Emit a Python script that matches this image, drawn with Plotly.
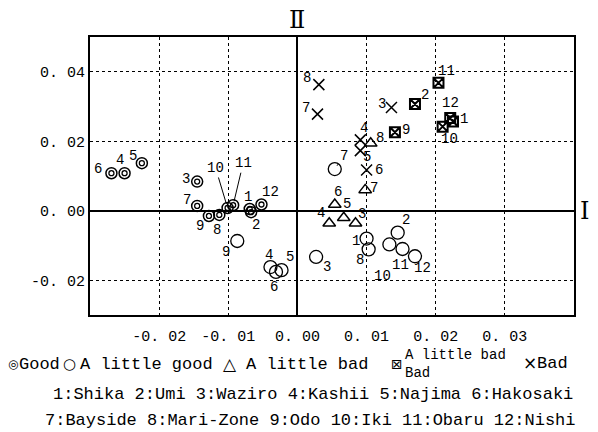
import plotly.graph_objects as go

# ---------------- data ----------------
stations = ["Shika", "Umi", "Waziro", "Kashii", "Najima", "Hakosaki",
            "Bayside", "Mari-Zone", "Odo", "Iki", "Obaru", "Nishi"]

categories = ["Good", "A little good", "A little bad", "A little bad<br>Bad", "Bad"]
category_glyphs = ["◎", "○", "△", "⊠", "×"]

good_id = [1, 2, 3, 4, 5, 6, 7, 8, 9, 10, 11, 12]
good_x = [-0.0069, -0.0067, -0.0145, -0.0250, -0.0225, -0.0269,
          -0.0145, -0.0113, -0.0128, -0.0101, -0.0093, -0.0052]
good_y = [0.0005, -0.0004, 0.0084, 0.0108, 0.0137, 0.0108,
          0.0014, -0.0012, -0.0015, 0.0008, 0.0016, 0.0018]

lgood_id = [1, 2, 3, 4, 5, 6, 7, 8, 9, 10, 11, 12]
lgood_x = [0.0100, 0.0145, 0.0027, -0.0039, -0.0023, -0.0031,
           0.0054, 0.0103, -0.0087, 0.0133, 0.0152, 0.0170]
lgood_y = [-0.0080, -0.0063, -0.0133, -0.0162, -0.0171, -0.0176,
           0.0120, -0.0111, -0.0087, -0.0097, -0.0110, -0.0131]

lbad_id = [3, 4, 5, 6, 7, 8]
lbad_x = [0.0084, 0.0046, 0.0067, 0.0054, 0.0098, 0.0106]
lbad_y = [-0.0036, -0.0036, -0.0020, 0.0018, 0.0060, 0.0194]

lbb_id = [1, 2, 9, 10, 11, 12]
lbb_x = [0.0225, 0.0170, 0.0141, 0.0210, 0.0204, 0.0221]
lbb_y = [0.0257, 0.0307, 0.0226, 0.0242, 0.0368, 0.0267]

bad_id = [3, 4, 5, 6, 7, 8]
bad_x = [0.0136, 0.0091, 0.0091, 0.0100, 0.0029, 0.0031]
bad_y = [0.0297, 0.0204, 0.0173, 0.0117, 0.0278, 0.0363]

x_ticks = [-0.02, -0.01, 0.00, 0.01, 0.02, 0.03]
x_ticktext = ["-0. 02", "-0. 01", "0. 00", "0. 01", "0. 02", "0. 03"]
y_ticks = [-0.02, 0.00, 0.02, 0.04]
y_ticktext = ["-0. 02", "0. 00", "0. 02", "0. 04"]

# ---------------- label offsets (style, pixels), in id order ----------------
good_off = [(-2, -12), (5, 13), (-11, -3), (-5, -13), (-9, -7), (-13, -4),
            (-10, -6), (-2, 15), (-9, 10), (-12, -40), (10, -42), (9, -13)]
good_leader = [False] * 9 + [True, True, False]
lgood_off = [(-11, 2), (8, -13), (11, 10), (-1, -12), (8, -13), (-2, 15),
             (9, -13), (-9, 11), (-11, 11), (-7, 32), (-2, 16), (8, 12)]
lgood_leader = [False] * 6 + [True] + [False] * 5
lbad_off = [(6, -9), (-8, -10), (3, -14), (3, -13), (9, -2), (9, -5)]
lbb_off = [(11, -2), (10, -9), (11, -2), (7, 12), (8, -12), (0, -15)]
bad_off = [(-9, -4), (4, -12), (7, 6), (12, 0), (-11, -6), (-12, -7)]

FONT = "Liberation Mono"
BLACK = "black"
W, H = 598, 432
ML, MR, MT, MB = 90, 24, 37, 117
PW, PH = W - ML - MR, H - MT - MB


def px2paper(px, py):
    return (px - ML) / PW, 1 - (py - MT) / PH


fig = go.Figure()

fig.add_trace(go.Scatter(x=good_x, y=good_y, mode="markers", name=categories[0],
                         marker=dict(symbol="circle-open", size=11,
                                     color=BLACK, line=dict(width=1.5, color=BLACK))))
fig.add_trace(go.Scatter(x=good_x, y=good_y, mode="markers", showlegend=False,
                         hoverinfo="skip",
                         marker=dict(symbol="circle-open", size=5,
                                     color=BLACK, line=dict(width=1.3, color=BLACK))))
fig.add_trace(go.Scatter(x=lgood_x, y=lgood_y, mode="markers", name=categories[1],
                         marker=dict(symbol="circle-open", size=13,
                                     color=BLACK, line=dict(width=1.3, color=BLACK))))
fig.add_trace(go.Scatter(x=lbad_x, y=lbad_y, mode="markers", name=categories[2],
                         marker=dict(symbol="triangle-up-open", size=11,
                                     color=BLACK, line=dict(width=1.5, color=BLACK))))
fig.add_trace(go.Scatter(x=lbb_x, y=lbb_y, mode="markers", name=categories[3],
                         marker=dict(symbol="square-x-open", size=10,
                                     color=BLACK, line=dict(width=2, color=BLACK))))
fig.add_trace(go.Scatter(x=bad_x, y=bad_y, mode="markers", name=categories[4],
                         marker=dict(symbol="x-thin-open", size=11,
                                     color=BLACK, line=dict(width=1.5, color=BLACK))))

annotations = []


def add_labels(ids, xs, ys, offs, leaders=None):
    for i, (k, x, y) in enumerate(zip(ids, xs, ys)):
        dx, dy = offs[i]
        lead = leaders[i] if leaders else False
        if lead:
            annotations.append(dict(x=x, y=y, xref="x", yref="y", text=str(k),
                                    showarrow=True, ax=dx, ay=dy, arrowhead=0,
                                    arrowwidth=1, arrowcolor=BLACK, standoff=4,
                                    font=dict(family=FONT, size=14, color=BLACK)))
        else:
            annotations.append(dict(x=x, y=y, xref="x", yref="y", text=str(k),
                                    showarrow=False, xshift=dx, yshift=-dy,
                                    font=dict(family=FONT, size=14, color=BLACK)))


add_labels(good_id, good_x, good_y, good_off, good_leader)
add_labels(lgood_id, lgood_x, lgood_y, lgood_off, lgood_leader)
add_labels(lbad_id, lbad_x, lbad_y, lbad_off)
add_labels(lbb_id, lbb_x, lbb_y, lbb_off)
add_labels(bad_id, bad_x, bad_y, bad_off)

# Axis names
annotations.append(dict(x=0, y=1, xref="x", yref="paper", text="Ⅱ", showarrow=False,
                        yanchor="bottom", yshift=1,
                        font=dict(family="DejaVu Serif", size=24, color=BLACK)))
annotations.append(dict(x=1, y=0, xref="paper", yref="y", text="Ⅰ", showarrow=False,
                        xanchor="left", xshift=4,
                        font=dict(family="DejaVu Serif", size=24, color=BLACK)))

# Legend (caption style, as in the original)
legend_glyph_x = [13, 69, 230, 397, 530]
legend_text_x = [18, 79, 245, 404, 536]
legend_y = [364, 364, 364, 364, 363]
legend_glyph_size = [12, 15, 17, 14, 17]
for glyph, name, gxp, txp, yp, gs in zip(category_glyphs, categories, legend_glyph_x,
                                          legend_text_x, legend_y, legend_glyph_size):
    gx, gy = px2paper(gxp, yp)
    annotations.append(dict(x=gx, y=gy, xref="paper", yref="paper", text=glyph,
                            showarrow=False, xanchor="center", yanchor="middle",
                            font=dict(family="DejaVu Sans", size=gs, color=BLACK)))
    tx, ty = px2paper(txp, yp)
    two_line = "<br>" in name
    annotations.append(dict(x=tx, y=ty, xref="paper", yref="paper", text=name,
                            showarrow=False, xanchor="left", yanchor="middle",
                            align="left", borderpad=0,
                            font=dict(family=FONT, size=14 if two_line else 17,
                                      color=BLACK)))

# Station key
line1 = " ".join(f"{i}:{n}" for i, n in enumerate(stations[:6], start=1))
line2 = " ".join(f"{i}:{n}" for i, n in enumerate(stations[6:], start=7))
for txt, (cx, cy) in zip([line1, line2], [(313, 394), (310, 420)]):
    ax_, ay_ = px2paper(cx, cy)
    annotations.append(dict(x=ax_, y=ay_, xref="paper", yref="paper", text=txt,
                            showarrow=False, xanchor="center", yanchor="middle",
                            font=dict(family=FONT, size=17, color=BLACK)))

fig.update_layout(
    width=W, height=H,
    margin=dict(l=ML, r=MR, t=MT, b=MB),
    paper_bgcolor="white", plot_bgcolor="white",
    font=dict(family=FONT, size=15, color=BLACK),
    showlegend=False,
    annotations=annotations,
)

fig.update_xaxes(range=[-0.03, 0.04], tickvals=x_ticks, ticktext=x_ticktext,
                 showline=True, mirror=True, linecolor=BLACK, linewidth=2,
                 showgrid=True, gridcolor=BLACK, gridwidth=1, griddash="dot",
                 zeroline=True, zerolinecolor=BLACK, zerolinewidth=2,
                 ticks="", ticklabelstandoff=6, tickfont=dict(family=FONT, size=15))
fig.update_yaxes(range=[-0.03, 0.05], tickvals=y_ticks, ticktext=y_ticktext,
                 showline=True, mirror=True, linecolor=BLACK, linewidth=2,
                 showgrid=True, gridcolor=BLACK, gridwidth=1, griddash="dot",
                 zeroline=True, zerolinecolor=BLACK, zerolinewidth=2,
                 ticks="", ticklabelstandoff=0, tickfont=dict(family=FONT, size=15))

fig.write_html("out.html")
